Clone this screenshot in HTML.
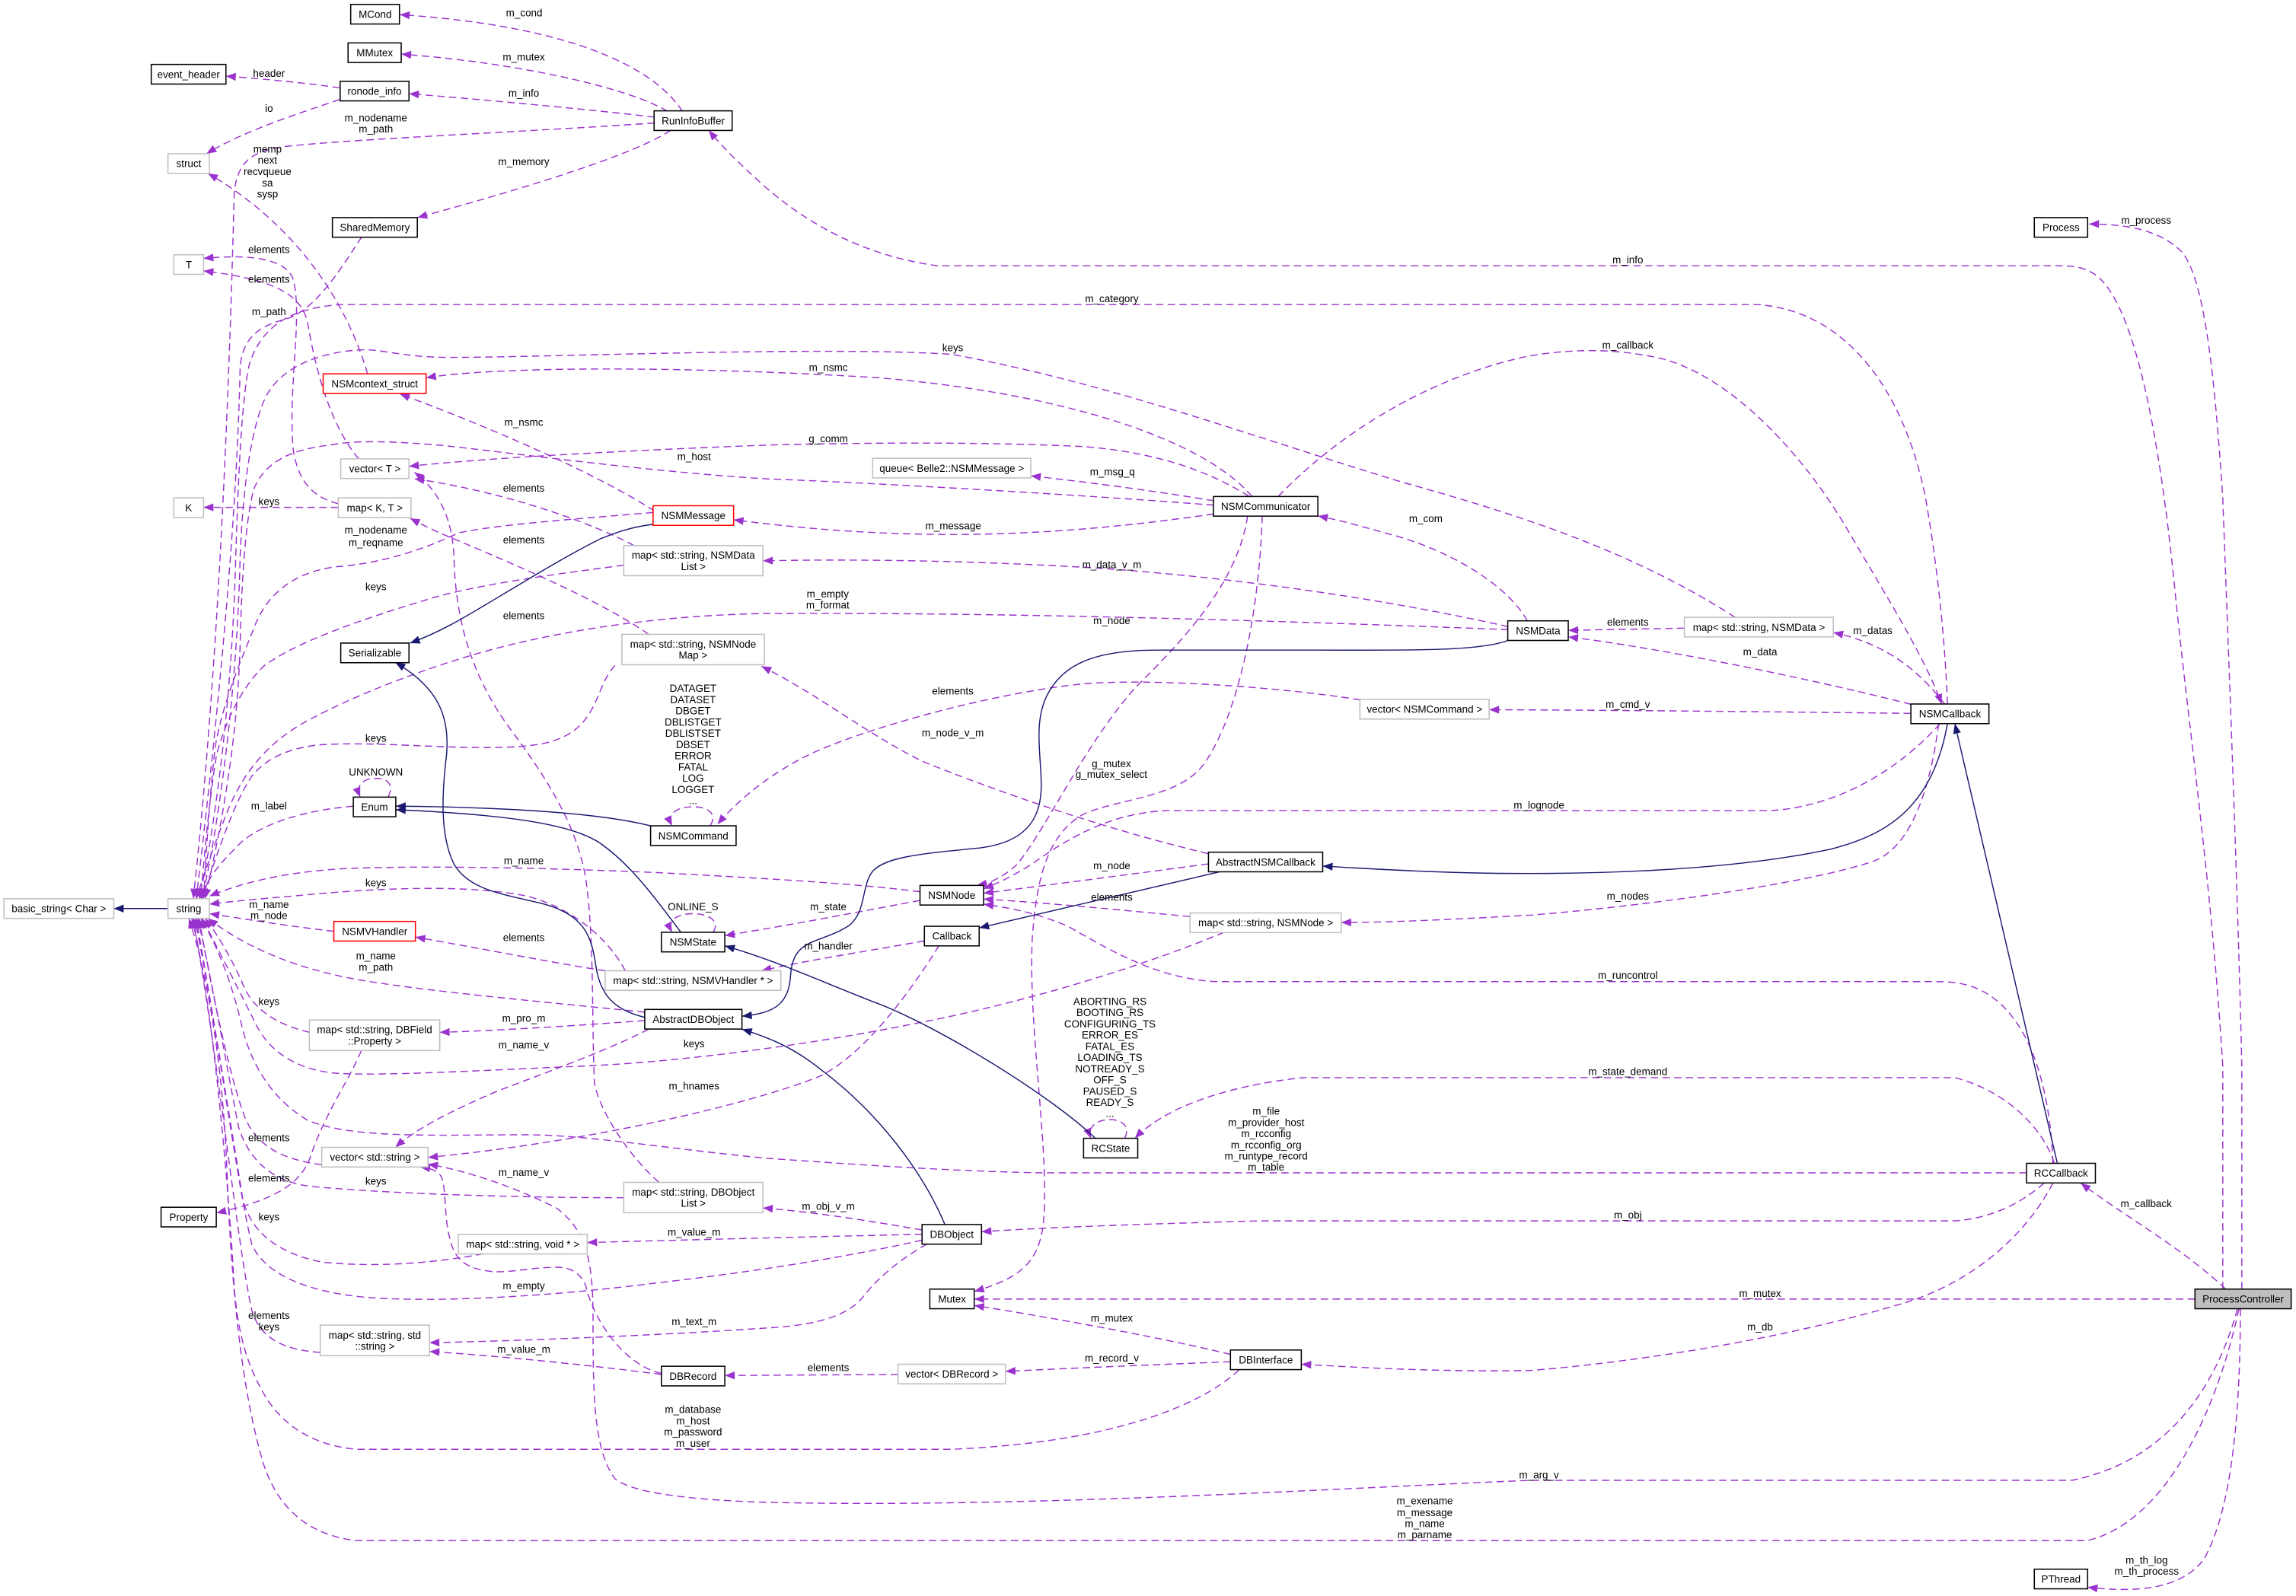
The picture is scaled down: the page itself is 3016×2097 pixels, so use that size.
<!DOCTYPE html>
<html>
<head>
<meta charset="utf-8">
<style>
html,body{margin:0;padding:0;background:#fff;}
svg{display:block;}
text{font-family:"Liberation Sans",Arial,sans-serif;font-size:7px;fill:#000;}
.d{fill:none;stroke:#9a32cd;stroke-width:0.75;stroke-dasharray:5,3;marker-end:url(#ap);}
.n{fill:none;stroke:#191970;stroke-width:0.75;marker-end:url(#an);}
.b{fill:#fff;stroke:#000;stroke-width:0.8;}
.g{fill:#fff;stroke:#bfbfbf;stroke-width:0.8;}
.r{fill:#fff;stroke:#ff0000;stroke-width:0.8;}
.pc{fill:#bfbfbf;stroke:#000;stroke-width:0.8;}
</style>
</head>
<body>
<svg width="3016" height="2097" viewBox="0 0 1568 1090" preserveAspectRatio="none" xmlns="http://www.w3.org/2000/svg">
<defs>
<marker id="ap" viewBox="0 0 10 8" refX="10" refY="4" markerWidth="7" markerHeight="5.4" orient="auto" markerUnits="userSpaceOnUse"><path d="M0,0L10,4L0,8z" fill="#9a32cd"/></marker>
<marker id="an" viewBox="0 0 10 8" refX="10" refY="4" markerWidth="7" markerHeight="5.4" orient="auto" markerUnits="userSpaceOnUse"><path d="M0,0L10,4L0,8z" fill="#191970"/></marker>
</defs>
<rect x="0" y="0" width="1568" height="1090" fill="#fff"/>

<!-- dashed usage edges -->
<path class="d" d="M466,76 C448,48 395,18 273,10"/>
<path class="d" d="M456,76 C425,58 345,42 274,37"/>
<path class="d" d="M447,80 C405,75 330,68 279.3,64"/>
<path class="d" d="M232,60 C212,57 182,54 154.3,52"/>
<path class="d" d="M232,68 C205,77 165,90 141,105"/>
<path class="d" d="M447,84 C360,90 240,95 195,100 C172,103 163,110 160,130 C157,250 150,450 132,613.8"/>
<path class="d" d="M458,89 C430,108 335,135 285,148.6"/>
<path class="d" d="M251,255.3 C238,210 205,155 142,118.4"/>
<path class="d" d="M247,161.8 C232,185 215,212 195,218 C175,223 166,232 164,250 C162,350 150,480 134,613.8"/>
<path class="d" d="M231,344 C215,340 203,330 200,305 C197,260 207,215 200,190 C195,178 175,173 139,176.5"/>
<path class="d" d="M245,313.4 C225,290 215,250 210,220 C205,198 180,190 139,185"/>
<path class="d" d="M231,346.5 L139,346.5"/>
<path class="d" d="M855,339 C820,298 720,268 600,258 C470,250 340,250 291,258"/>
<path class="d" d="M447,349 C405,322 330,290 273,269"/>
<path class="d" d="M1185,421.6 C1120,380 1050,355 960,330 C860,300 760,262 650,242 C560,236 350,245 300,244 C270,243 260,238 245,239 C215,241 192,252 182,270 C172,290 166,330 164,380 C162,470 150,560 138,613.8"/>
<path class="d" d="M1330,480.8 C1328,430 1322,380 1315,340 C1300,265 1260,212 1200,208 L233,208 C200,210 178,222 170,250 C165,275 163,320 161,380 C159,460 150,550 136,613.8"/>
<path class="d" d="M1518,880.4 L1518,728 C1510,600 1495,500 1485,400 C1475,300 1458,205 1430,187 C1422,182 1415,181.5 1405,181.5 L640,181.5 C600,176 560,160 523,128 C505,112 493,100 484,89"/>
<path class="d" d="M1531,880.4 L1531,728 C1528,600 1522,450 1518,340 C1512,250 1505,190 1490,172 C1475,157 1452,153 1426.7,153"/>
<path class="d" d="M873,339 C920,290 985,255 1045,243 C1075,238 1105,238 1135,245 C1185,258 1235,315 1263,364 C1290,410 1315,450 1326,480.8"/>
<path class="d" d="M829,342 C780,334 740,329 704,325"/>
<path class="d" d="M829,345 C740,338 600,330 523,327 C440,322 340,308 300,304 C275,302 245,300 225,304 C198,307 180,316 173,335 C167,360 165,400 164,440 C162,510 150,570 140,613.8"/>
<path class="d" d="M853,339 C820,318 780,308 740,305 C680,302 600,302 523,304 C420,308 330,313 279.3,318.5"/>
<path class="d" d="M829,351 C780,358 720,365 650,365 C590,365 540,360 501,355"/>
<path class="d" d="M1043,424 C1030,400 990,375 946,364 C928,359 914,355 900,352.4"/>
<path class="d" d="M1030,428 C950,410 850,395 750,388 C650,382 570,382 521,383"/>
<path class="d" d="M1030,430 C900,425 700,418 523,419 C460,420 400,428 350,440 C300,452 240,475 205,495 C180,510 165,530 155,555 C147,575 140,595 134,613.8"/>
<path class="d" d="M852,352.4 C845,400 805,440 775,470 C740,510 718,560 695,590 C684,600 676,603 667,604.7"/>
<path class="d" d="M862,352.4 C860,420 845,490 822,522 C805,545 765,545 740,556 C715,570 708,600 705,640 C702,700 716,780 713,830 C711,860 700,872 665.3,882"/>
<path class="d" d="M1150.3,429 L1071,430.5"/>
<path class="d" d="M1328,480.8 C1312,460 1290,440 1252,432"/>
<path class="d" d="M1305,481 C1230,462 1130,442 1071,435"/>
<path class="d" d="M1305,487.2 C1200,486 1100,485 1017,484.7"/>
<path class="d" d="M929,478 C880,470 790,463 740,467 C680,473 600,495 560,512 C530,525 505,545 490,563"/>
<path class="d" d="M825,583 C750,565 680,540 630,520 C590,500 560,475 520,455"/>
<path class="d" d="M1325,494.2 C1300,522 1260,550 1210,553.6 L800,553.6 C765,554 735,568 705,590 C692,598 682,603 671.7,607"/>
<path class="d" d="M825.3,590 C780,596 720,604 671.7,610"/>
<path class="d" d="M1324,494.2 C1318,540 1305,578 1280,588 C1230,605 1110,620 1045,625 C990,628 950,630 916,630"/>
<path class="d" d="M812.7,626 C760,621 720,617 671.7,614"/>
<path class="d" d="M1402,794.5 C1400,740 1385,690 1350,675 C1340,671 1332,670.4 1320,670.4 L830,670.4 C790,668 760,650 730,633 C710,624 690,620 671.7,617.5"/>
<path class="d" d="M628.3,615 C590,622 550,630 495,639"/>
<path class="d" d="M628.3,609 C580,603 523,600 450,596 C380,593 300,591 240,593 C195,595 165,603 143,612"/>
<path class="d" d="M427,663 C415,640 390,620 360,612 C320,604 260,606 200,612 C175,614 155,616 143,617.5"/>
<path class="d" d="M228,636 C200,633 170,628 143,624"/>
<path class="d" d="M413.3,663 C380,658 330,648 283.7,640"/>
<path class="d" d="M631.3,642.6 C590,650 550,656 520,663"/>
<path class="d" d="M440.3,691.3 C380,685 300,678 250,670 C200,662 165,645 142,627.2"/>
<path class="d" d="M440.3,697 C400,700 340,704 300.3,705"/>
<path class="d" d="M211.3,705 C190,700 172,690 165,670 C158,655 150,640 140,627.2"/>
<path class="d" d="M443,702.9 C420,715 380,730 340,745 C310,758 285,770 270,783.6"/>
<path class="d" d="M246.7,717.5 C240,735 222,760 212,790 C205,810 185,820 147.7,828.4"/>
<path class="d" d="M836,636.7 C780,660 700,685 620,700 C560,712 470,725 400,728 C330,731 260,735 230,733 C205,731 185,720 175,700 C165,680 150,650 138,627.2"/>
<path class="d" d="M219.7,795.5 C195,792 178,785 168,765 C158,740 145,680 136,627.2"/>
<path class="d" d="M426,818 C350,818 260,815 210,810 C185,806 170,792 163,770 C155,730 145,670 135,627.2"/>
<path class="d" d="M330,856.3 C300,862 260,866 220,862 C190,856 172,842 166,820 C158,770 145,690 134,627.2"/>
<path class="d" d="M629.7,847 C580,858 520,868 450,876 C380,885 300,890 250,886 C205,882 180,868 172,850 C162,810 148,700 133,627.2"/>
<path class="d" d="M629.7,843 C580,844 500,846 401,848.6"/>
<path class="d" d="M629.7,840 C600,835 560,828 521,825"/>
<path class="d" d="M633,849.6 C615,860 600,872 590,885 C580,898 560,905 523,907 C450,912 350,916 293.3,917"/>
<path class="d" d="M451.7,938.7 C400,932 340,926 293.3,923"/>
<path class="d" d="M218.7,923.6 C195,922 178,915 172,895 C162,850 150,730 132,627.2"/>
<path class="d" d="M451.7,938 C425,932 405,900 400,878 C395,866 385,865 376,865.6 C360,866 345,870 333,868 C318,866 310,860 307,845 C303,830 305,810 301,803 C298,799 294,798 287,797"/>
<path class="d" d="M1528,893.9 C1510,960 1470,1000 1415,1011 L1045,1011 C900,1017 700,1030 523,1026 C460,1024 430,1018 420,1010 C405,990 405,950 405,900 C405,860 400,840 380,825 C350,810 320,800 292.3,795"/>
<path class="d" d="M641.3,645.8 C620,680 590,720 560,735 C510,755 400,780 292.3,790.5"/>
<path class="d" d="M1396,808 C1380,822 1360,832 1335,833.8 L860,833.8 C780,836 720,838 670.3,841.2"/>
<path class="d" d="M1384,801 L713,801 C650,800 580,795 523,791 C460,785 400,775 360,775 C300,775 240,778 210,765 C188,752 172,730 165,700 C158,670 148,645 137,627.2"/>
<path class="d" d="M1403,794.5 C1395,770 1370,745 1335,736 L890,736 C850,740 800,752 775,777.4"/>
<path class="d" d="M1402,808 C1380,850 1340,878 1300,890 C1220,914 1120,930 1045,936 C980,937 930,934 888.7,931.7"/>
<path class="d" d="M1499,887.2 L665.3,887.2"/>
<path class="d" d="M840.3,925 C800,915 720,900 665.3,891.6"/>
<path class="d" d="M840.3,930 C790,932 740,934 686.7,936.6"/>
<path class="d" d="M613.3,938.7 L495,939.4"/>
<path class="d" d="M846.3,935.5 C820,960 760,985 650,989.8 L243,989.8 C215,987 195,975 182,955 C170,935 163,915 160,880 C157,820 145,680 131,627.2"/>
<path class="d" d="M1529,893.9 C1515,960 1480,1040 1425,1052.2 L243,1052.2 C210,1048 190,1030 180,1000 C165,950 158,880 155,800 C152,720 140,660 129,627.2"/>
<path class="d" d="M1530,893.9 C1530,960 1525,1030 1505,1065 C1490,1085 1460,1088 1425.7,1084"/>
<path class="d" d="M1520,880.4 C1490,852 1450,830 1421,808"/>
<path class="d" d="M446,350 C400,354 340,358 313,364 C290,375 260,385 230,387 C205,390 185,402 175,425 C165,450 152,480 147,510 C143,545 141,580 139,613.8"/>
<path class="d" d="M426,386 C380,392 320,400 290,410 C240,425 200,440 180,455 C165,470 155,490 148,515 C143,545 140,580 137,613.8"/>
<path class="d" d="M420,454.5 C405,470 410,500 370,508 C330,515 260,505 215,509 C195,512 182,518 172,530 C160,548 150,578 138,613.8"/>
<path class="d" d="M241.3,550.6 C210,553 180,562 165,575 C152,588 142,598 137,613.8"/>
<path class="d" d="M433,372.6 C400,355 340,335 283,327"/>
<path class="d" d="M443,433.2 C410,410 350,385 310,368 C295,362 288,358 280,354"/>
<path class="d" d="M450,807.5 C430,790 410,760 406,740 C404,700 406,640 400,600 C395,570 380,540 350,500 C320,460 311,420 310,380 C309,355 300,335 283,322.6"/>
<!-- self loops -->
<path class="d" d="M265,544.4 C269,537 266,531.6 256.7,531.6 C247,531.6 243,537 246,544.4"/>
<path class="d" d="M485,564 C490,556 484,551 473.3,551 C462,551 455,556 459,564"/>
<path class="d" d="M487,636.7 C492,629 484,624 473.3,624 C462,624 455,629 459,636.7"/>
<path class="d" d="M768,777.4 C772,770 767,764.6 758,764.6 C749,764.6 742,770 745,777.4"/>

<!-- inheritance edges -->
<path class="n" d="M114.7,620.5 L77.7,620.5"/>
<path class="n" d="M446.7,358 C430,360 420,364 410,368 C390,378 370,390 340,408 C315,423 300,432 280,439.2"/>
<path class="n" d="M440.3,694.8 C420,690 410,680 407,660 C404,640 400,625 370,617 C345,611 320,608 310,590 C300,570 302,540 305,515 C307,490 300,470 270,452.4"/>
<path class="n" d="M444.3,564 C420,558 380,553 300,551 C285,550.6 278,550.6 270.3,550.6"/>
<path class="n" d="M465,636.7 C445,610 430,590 410,576 C390,562 340,556 270.3,553"/>
<path class="n" d="M748,777.4 C720,750 640,700 596,684 C560,670 530,656 495,646"/>
<path class="n" d="M1029.7,437.4 C1010,445 960,444 900,444 L790,444 C745,444 725,455 715,475 C705,495 712,520 711,540 C710,560 700,575 670,579 C630,583 605,585 596,595 C588,605 592,622 580,632 C560,645 542,640 540,665 C539,685 530,692 506.7,694"/>
<path class="n" d="M645.3,836.3 C630,800 600,760 560,730 C545,718 530,710 506.7,702.9"/>
<path class="n" d="M1330,494.2 C1320,550 1290,570 1250,580 C1180,595 1080,598 1000,596 C960,595 930,593 903.3,591.5"/>
<path class="n" d="M833,595.4 L668.7,633.7"/>
<path class="n" d="M1405,794.5 L1335,494.2"/>

<!-- nodes -->
<rect class="b" x="239.5" y="3" width="33.3" height="13.4"/><text x="256.2" y="12.2" text-anchor="middle">MCond</text>
<rect class="b" x="237.7" y="29.3" width="36.3" height="13.4"/><text x="255.9" y="38.5" text-anchor="middle">MMutex</text>
<rect class="b" x="103.3" y="44" width="51" height="13.4"/><text x="128.8" y="53.2" text-anchor="middle">event_header</text>
<rect class="b" x="232.3" y="55.5" width="47" height="13.4"/><text x="255.8" y="64.7" text-anchor="middle">ronode_info</text>
<rect class="b" x="446.7" y="75.7" width="53.3" height="13.4"/><text x="473.4" y="84.9" text-anchor="middle">RunInfoBuffer</text>
<rect class="g" x="114.7" y="105" width="28.3" height="13.4"/><text x="128.9" y="114.2" text-anchor="middle">struct</text>
<rect class="b" x="227" y="148.6" width="58" height="13.4"/><text x="256" y="157.8" text-anchor="middle">SharedMemory</text>
<rect class="g" x="118.7" y="174" width="20.3" height="13.4"/><text x="128.9" y="183.2" text-anchor="middle">T</text>
<rect class="r" x="220.7" y="255.3" width="70.3" height="13.4"/><text x="255.9" y="264.5" text-anchor="middle">NSMcontext_struct</text>
<rect class="g" x="232.7" y="313.4" width="46.6" height="13.4"/><text x="256" y="322.6" text-anchor="middle">vector&lt; T &gt;</text>
<rect class="g" x="118.7" y="340" width="20.3" height="13.4"/><text x="128.9" y="349.2" text-anchor="middle">K</text>
<rect class="g" x="231" y="340" width="49.7" height="13.4"/><text x="255.9" y="349.2" text-anchor="middle">map&lt; K, T &gt;</text>
<rect class="r" x="446" y="345.4" width="55" height="13.4"/><text x="473.5" y="354.6" text-anchor="middle">NSMMessage</text>
<rect class="g" x="596" y="313" width="108" height="13.4"/><text x="650" y="322.2" text-anchor="middle">queue&lt; Belle2::NSMMessage &gt;</text>
<rect class="b" x="828.7" y="339.1" width="71.3" height="13.4"/><text x="864.4" y="348.3" text-anchor="middle">NSMCommunicator</text>
<rect class="b" x="1389.3" y="148.6" width="36.4" height="13.4"/><text x="1407.5" y="157.8" text-anchor="middle">Process</text>
<rect class="g" x="426" y="372.6" width="95" height="20.6"/><text x="473.5" y="381.6" text-anchor="middle">map&lt; std::string, NSMData</text><text x="473.5" y="389.2" text-anchor="middle">List &gt;</text>
<rect class="b" x="232.7" y="439.2" width="46.6" height="13.4"/><text x="256" y="448.4" text-anchor="middle">Serializable</text>
<rect class="g" x="424.7" y="433.2" width="97.3" height="20.8"/><text x="473.3" y="442.3" text-anchor="middle">map&lt; std::string, NSMNode</text><text x="473.3" y="449.9" text-anchor="middle">Map &gt;</text>
<rect class="b" x="241.3" y="544.4" width="29" height="13.4"/><text x="255.8" y="553.6" text-anchor="middle">Enum</text>
<rect class="b" x="444.3" y="564" width="58.4" height="13.4"/><text x="473.5" y="573.2" text-anchor="middle">NSMCommand</text>
<rect class="g" x="2.7" y="613.8" width="75" height="13.4"/><text x="40.2" y="623" text-anchor="middle">basic_string&lt; Char &gt;</text>
<rect class="g" x="114.7" y="613.8" width="28.3" height="13.4"/><text x="128.9" y="623" text-anchor="middle">string</text>
<rect class="r" x="228" y="629.3" width="55.7" height="13.4"/><text x="255.9" y="638.5" text-anchor="middle">NSMVHandler</text>
<rect class="b" x="451.7" y="636.7" width="43.3" height="13.4"/><text x="473.3" y="645.9" text-anchor="middle">NSMState</text>
<rect class="g" x="413.3" y="663" width="120" height="13.4"/><text x="473.3" y="672.2" text-anchor="middle">map&lt; std::string, NSMVHandler * &gt;</text>
<rect class="b" x="440.3" y="689.4" width="66.4" height="13.4"/><text x="473.5" y="698.6" text-anchor="middle">AbstractDBObject</text>
<rect class="g" x="211.3" y="696.6" width="89" height="20.9"/><text x="255.8" y="705.7" text-anchor="middle">map&lt; std::string, DBField</text><text x="255.8" y="713.3" text-anchor="middle">::Property &gt;</text>
<rect class="b" x="1029.7" y="424" width="41.3" height="13.4"/><text x="1050.4" y="433.2" text-anchor="middle">NSMData</text>
<rect class="g" x="1150.3" y="421.6" width="101.7" height="13.4"/><text x="1201.2" y="430.8" text-anchor="middle">map&lt; std::string, NSMData &gt;</text>
<rect class="g" x="928.7" y="477.7" width="88.3" height="13.4"/><text x="972.9" y="486.9" text-anchor="middle">vector&lt; NSMCommand &gt;</text>
<rect class="b" x="1305" y="480.8" width="53.3" height="13.4"/><text x="1331.7" y="490" text-anchor="middle">NSMCallback</text>
<rect class="b" x="825.3" y="582" width="78" height="13.4"/><text x="864.3" y="591.2" text-anchor="middle">AbstractNSMCallback</text>
<rect class="b" x="628.3" y="604.7" width="43.4" height="13.4"/><text x="650" y="613.9" text-anchor="middle">NSMNode</text>
<rect class="b" x="631.3" y="632.6" width="37.4" height="13.4"/><text x="650" y="641.8" text-anchor="middle">Callback</text>
<rect class="g" x="812.7" y="623.5" width="103.3" height="13.4"/><text x="864.4" y="632.7" text-anchor="middle">map&lt; std::string, NSMNode &gt;</text>
<rect class="g" x="219.7" y="783.6" width="72.6" height="13.4"/><text x="256" y="792.8" text-anchor="middle">vector&lt; std::string &gt;</text>
<rect class="g" x="426" y="807.5" width="95" height="20.7"/><text x="473.5" y="816.6" text-anchor="middle">map&lt; std::string, DBObject</text><text x="473.5" y="824.2" text-anchor="middle">List &gt;</text>
<rect class="b" x="110" y="824.5" width="37.7" height="13.4"/><text x="128.9" y="833.7" text-anchor="middle">Property</text>
<rect class="g" x="313" y="843" width="88" height="13.4"/><text x="357" y="852.2" text-anchor="middle">map&lt; std::string, void * &gt;</text>
<rect class="g" x="218.7" y="905" width="74.6" height="20.9"/><text x="256" y="914.2" text-anchor="middle">map&lt; std::string, std</text><text x="256" y="921.8" text-anchor="middle">::string &gt;</text>
<rect class="b" x="451.7" y="933.1" width="43.3" height="13.4"/><text x="473.3" y="942.3" text-anchor="middle">DBRecord</text>
<rect class="b" x="740" y="777.4" width="37" height="13.4"/><text x="758.5" y="786.6" text-anchor="middle">RCState</text>
<rect class="b" x="629.7" y="836.3" width="40.6" height="13.4"/><text x="650" y="845.5" text-anchor="middle">DBObject</text>
<rect class="b" x="635" y="880.4" width="30.3" height="13.4"/><text x="650.2" y="889.6" text-anchor="middle">Mutex</text>
<rect class="b" x="840.3" y="922" width="48.4" height="13.4"/><text x="864.5" y="931.2" text-anchor="middle">DBInterface</text>
<rect class="g" x="613.3" y="931.7" width="73.4" height="13.4"/><text x="650" y="940.9" text-anchor="middle">vector&lt; DBRecord &gt;</text>
<rect class="b" x="1384" y="794.5" width="47" height="13.4"/><text x="1407.5" y="803.7" text-anchor="middle">RCCallback</text>
<rect class="pc" x="1499" y="880.4" width="65.7" height="13.4"/><text x="1531.9" y="889.6" text-anchor="middle">ProcessController</text>
<rect class="b" x="1389.3" y="1071.7" width="36.4" height="13.4"/><text x="1407.5" y="1080.9" text-anchor="middle">PThread</text>

<!-- edge labels -->
<g text-anchor="middle">
<text x="358" y="11.3">m_cond</text>
<text x="357.7" y="41.3">m_mutex</text>
<text x="183.7" y="52.6">header</text>
<text x="357.7" y="66.1">m_info</text>
<text x="183.7" y="76.5">io</text>
<text x="256.7" y="82.8">m_nodename</text>
<text x="256.7" y="90.5">m_path</text>
<text x="182.7" y="104.2">memp</text>
<text x="182.7" y="111.8">next</text>
<text x="182.7" y="119.5">recvqueue</text>
<text x="182.7" y="127.4">sa</text>
<text x="182.7" y="135">sysp</text>
<text x="357.7" y="112.8">m_memory</text>
<text x="183.7" y="172.9">elements</text>
<text x="183.7" y="193.1">elements</text>
<text x="183.7" y="215.1">m_path</text>
<text x="357.7" y="290.8">m_nsmc</text>
<text x="474" y="314.2">m_host</text>
<text x="357.7" y="335.8">elements</text>
<text x="183.7" y="344.9">keys</text>
<text x="256.7" y="364.5">m_nodename</text>
<text x="256.7" y="373">m_reqname</text>
<text x="759.3" y="206.3">m_category</text>
<text x="650.7" y="240">keys</text>
<text x="565.7" y="253.5">m_nsmc</text>
<text x="565.7" y="301.9">g_comm</text>
<text x="759.7" y="324.7">m_msg_q</text>
<text x="651" y="361.6">m_message</text>
<text x="973.7" y="356.5">m_com</text>
<text x="1465.7" y="152.9">m_process</text>
<text x="1111.7" y="179.8">m_info</text>
<text x="1111.7" y="238.1">m_callback</text>
<text x="357.7" y="371.1">elements</text>
<text x="256.7" y="403.2">keys</text>
<text x="357.7" y="422.9">elements</text>
<text x="473.3" y="472.6">DATAGET</text>
<text x="473.3" y="480.3">DATASET</text>
<text x="473.3" y="487.9">DBGET</text>
<text x="473.3" y="495.6">DBLISTGET</text>
<text x="473.3" y="503.2">DBLISTSET</text>
<text x="473.3" y="510.9">DBSET</text>
<text x="473.3" y="518.5">ERROR</text>
<text x="473.3" y="526.2">FATAL</text>
<text x="473.3" y="533.9">LOG</text>
<text x="473.3" y="541.5">LOGGET</text>
<text x="473.3" y="549.2">...</text>
<text x="256.7" y="506.5">keys</text>
<text x="256.7" y="529.7">UNKNOWN</text>
<text x="183.7" y="552.7">m_label</text>
<text x="357.7" y="590.3">m_name</text>
<text x="256.7" y="605.4">keys</text>
<text x="183.7" y="620">m_name</text>
<text x="183.7" y="627.6">m_node</text>
<text x="473.3" y="621.8">ONLINE_S</text>
<text x="357.7" y="642.7">elements</text>
<text x="256.7" y="655.3">m_name</text>
<text x="256.7" y="662.9">m_path</text>
<text x="183.7" y="686.4">keys</text>
<text x="357.7" y="697.7">m_pro_m</text>
<text x="357.7" y="715.9">m_name_v</text>
<text x="474" y="715.2">keys</text>
<text x="759.3" y="387.9">m_data_v_m</text>
<text x="565.3" y="408.1">m_empty</text>
<text x="565.3" y="415.7">m_format</text>
<text x="759.3" y="426.2">m_node</text>
<text x="650.7" y="474.4">elements</text>
<text x="650.7" y="503">m_node_v_m</text>
<text x="759" y="523.9">g_mutex</text>
<text x="759" y="531.3">g_mutex_select</text>
<text x="1051" y="552.2">m_lognode</text>
<text x="759.3" y="593.5">m_node</text>
<text x="759.3" y="615.1">elements</text>
<text x="565.7" y="621.6">m_state</text>
<text x="565.7" y="648.5">m_handler</text>
<text x="758" y="686.4">ABORTING_RS</text>
<text x="758" y="694">BOOTING_RS</text>
<text x="758" y="701.7">CONFIGURING_TS</text>
<text x="758" y="709.3">ERROR_ES</text>
<text x="758" y="717">FATAL_ES</text>
<text x="758" y="724.7">LOADING_TS</text>
<text x="758" y="732.3">NOTREADY_S</text>
<text x="758" y="740">OFF_S</text>
<text x="758" y="747.6">PAUSED_S</text>
<text x="758" y="755.3">READY_S</text>
<text x="758" y="762.9">...</text>
<text x="1111.7" y="427.3">elements</text>
<text x="1279" y="433.1">m_datas</text>
<text x="1202" y="447.5">m_data</text>
<text x="1111.7" y="483.5">m_cmd_v</text>
<text x="1111.7" y="614.4">m_nodes</text>
<text x="1111.7" y="668.5">m_runcontrol</text>
<text x="183.7" y="779.4">elements</text>
<text x="183.7" y="807">elements</text>
<text x="256.7" y="809.1">keys</text>
<text x="357.7" y="803.1">m_name_v</text>
<text x="474" y="744.1">m_hnames</text>
<text x="183.7" y="833.5">keys</text>
<text x="474" y="843.9">m_value_m</text>
<text x="357.7" y="880.6">m_empty</text>
<text x="183.7" y="900.8">elements</text>
<text x="183.7" y="908.5">keys</text>
<text x="474" y="905">m_text_m</text>
<text x="357.7" y="923.8">m_value_m</text>
<text x="473.3" y="965.1">m_database</text>
<text x="473.3" y="972.8">m_host</text>
<text x="473.3" y="980.4">m_password</text>
<text x="473.3" y="988.1">m_user</text>
<text x="864.7" y="761.3">m_file</text>
<text x="864.7" y="769">m_provider_host</text>
<text x="864.7" y="776.6">m_rcconfig</text>
<text x="864.7" y="784.3">m_rcconfig_org</text>
<text x="864.7" y="791.9">m_runtype_record</text>
<text x="864.7" y="799.4">m_table</text>
<text x="565.7" y="826.1">m_obj_v_m</text>
<text x="759.3" y="902.7">m_mutex</text>
<text x="759.3" y="929.8">m_record_v</text>
<text x="565.7" y="936.5">elements</text>
<text x="973" y="1027.5">m_exename</text>
<text x="973" y="1035.5">m_message</text>
<text x="973" y="1042.9">m_name</text>
<text x="973" y="1050.5">m_parname</text>
<text x="1051" y="1009.7">m_arg_v</text>
<text x="1111.7" y="734.1">m_state_demand</text>
<text x="1465.7" y="824.4">m_callback</text>
<text x="1111.7" y="832.1">m_obj</text>
<text x="1202" y="885.7">m_mutex</text>
<text x="1202" y="908.5">m_db</text>
<text x="1466" y="1067.9">m_th_log</text>
<text x="1466" y="1075.5">m_th_process</text>
</g>
</svg>
</body>
</html>
